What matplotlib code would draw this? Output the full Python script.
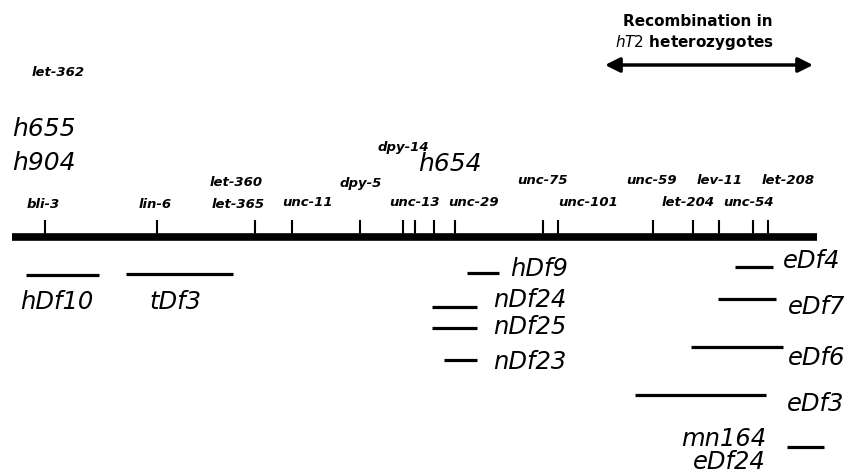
import numpy as np
import matplotlib
matplotlib.use("Agg")
import matplotlib.pyplot as plt

plt.rcParams['font.family'] = ['DejaVu Sans']
plt.rcParams['mathtext.fontset'] = 'custom'
plt.rcParams['mathtext.it'] = 'DejaVu Sans:italic'
plt.rcParams['mathtext.rm'] = 'DejaVu Sans'

# map positions of loci along the chromosome (map units, left end = 12)
chrom_span = [12, 817]
tick_pos = [45, 157, 255, 292, 360, 403, 415, 434, 455, 543, 558,
            653, 693, 719, 753, 768]

# gene names and where they sit above the map
gene_names = ["let-362", "bli-3", "lin-6", "let-360", "let-365", "unc-11",
              "dpy-5", "dpy-14", "unc-13", "unc-29", "unc-75", "unc-101",
              "unc-59", "lev-11", "let-208", "let-204", "unc-54"]
gene_x = [58, 43, 155, 236, 238, 308, 361, 403, 415, 474, 543, 588,
          652, 720, 788, 688, 749]
gene_y = [72, 205, 205, 183, 205, 203, 184, 147, 203, 203, 181, 203,
          180, 180, 180, 203, 203]

# alleles
allele_names = ["h655", "h904", "h654"]
allele_x = [12, 12, 418]
allele_y = [129, 163, 164]

# deficiencies: left end, right end
df_names = ["hDf10", "tDf3", "hDf9", "nDf24", "nDf25", "nDf23",
            "eDf4", "eDf7", "eDf6", "eDf3", "mn164"]
df_left = [26, 126, 467, 432, 432, 444, 735, 718, 691, 635, 787]
df_right = [99, 233, 499, 477, 477, 477, 773, 776, 783, 766, 824]
df_row = [275, 274, 273, 307, 328, 360, 267, 299, 347, 395, 447]

# deficiency labels (text, x, y, alignment)
df_labels = [("hDf10", 57, 302, 'center'), ("tDf3", 175, 302, 'center'),
             ("hDf9", 510, 269, 'left'), ("nDf24", 493, 300, 'left'),
             ("nDf25", 493, 327, 'left'), ("nDf23", 493, 362, 'left'),
             ("eDf4", 783, 261, 'left'), ("eDf7", 788, 307, 'left'),
             ("eDf6", 788, 358, 'left'), ("eDf3", 787, 404, 'left'),
             ("mn164", 766, 439, 'right'), ("eDf24", 766, 462, 'right')]

recomb_span = [605, 813]
chrom_y = 237

fig = plt.figure(figsize=(8.51, 4.75), dpi=100)
ax = fig.add_axes([0, 0, 1, 1])
ax.set_xlim(0, 851)
ax.set_ylim(475, 0)
ax.axis('off')

# chromosome
ax.plot(chrom_span, [chrom_y, chrom_y], color='black', lw=5.5,
        solid_capstyle='butt')
for x in tick_pos:
    ax.plot([x, x], [chrom_y, 221], color='black', lw=1.5)

for name, x, y in zip(gene_names, gene_x, gene_y):
    ax.text(x, y, name, fontsize=9.5, style='italic', fontweight='bold',
            ha='center', va='center')

for name, x, y in zip(allele_names, allele_x, allele_y):
    ax.text(x, y, name, fontsize=18, style='italic', ha='left', va='center')

for l, r, y in zip(df_left, df_right, df_row):
    ax.plot([l, r], [y, y], color='black', lw=2.3, solid_capstyle='butt')

for name, x, y, ha in df_labels:
    ax.text(x, y, name, fontsize=17.5, style='italic', ha=ha, va='center')

# recombination arrow and caption
mid = sum(recomb_span) / 2
ax.text(mid - 11, 22, "Recombination in", fontsize=11, fontweight='bold',
        ha='center', va='center')
ax.text(mid - 15, 43, r"$\mathit{hT2}$ heterozygotes", fontsize=11,
        fontweight='bold', ha='center', va='center')
ax.annotate('', xy=(recomb_span[1], 65), xytext=(recomb_span[0], 65),
            arrowprops=dict(arrowstyle='<|-|>', lw=2.5, color='black',
                            mutation_scale=22, shrinkA=0, shrinkB=0))

fig.savefig("out.png", dpi=100)
